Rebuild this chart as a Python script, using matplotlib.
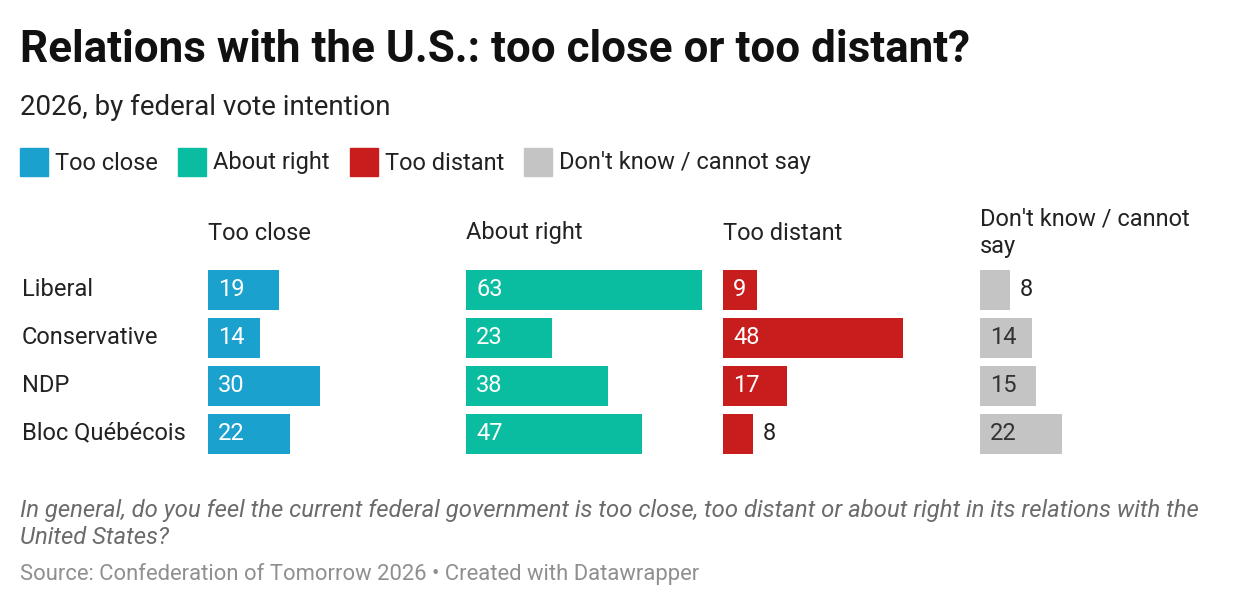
import matplotlib.pyplot as plt
from matplotlib.patches import Rectangle

plt.rcParams['font.family'] = ['Roboto', 'DejaVu Sans']

# ------------------------ #
# DATA
# ------------------------ #

parties = ["Liberal", "Conservative", "NDP", "Bloc Québécois"]
categories = ["Too close", "About right", "Too distant", "Don't know / cannot say"]
headers = ["Too close", "About right", "Too distant", "Don't know / cannot\nsay"]

too_close = [19, 14, 30, 22]
about_right = [63, 23, 38, 47]
too_distant = [9, 48, 17, 8]
dont_know = [8, 14, 15, 22]

series = [too_close, about_right, too_distant, dont_know]
colors = ["#1ba1cd", "#0abda0", "#c71e1d", "#c4c4c4"]
inside_text = ["white", "white", "white", "#333333"]

title = "Relations with the U.S.: too close or too distant?"
subtitle = "2026, by federal vote intention"
note = ("In general, do you feel the current federal government is too close, too distant or about right in its relations with the\n"
        "United States?")
source = "Source: Confederation of Tomorrow 2026 \u2022 Created with Datawrapper"

# ------------------------ #
# LAYOUT (pixels)
# ------------------------ #

W, H = 1240, 606
fig = plt.figure(figsize=(W / 100, H / 100), dpi=100)


def fx(x):
    return x / W


def fy(y):
    return 1 - y / H


fig.text(fx(20), fy(62), title, fontsize=31.7, fontweight="bold", color="#111111", va="baseline")
fig.text(fx(20), fy(115.5), subtitle, fontsize=20, color="#222222", va="baseline")

# legend
leg_x = [20, 178, 350, 524]
for lx, lab, col in zip(leg_x, categories, colors):
    fig.patches.append(Rectangle((fx(lx), fy(175.5)), fx(28), 28 / H, color=col,
                                 transform=fig.transFigure))
    fig.text(fx(lx + 35), fy(169.5), lab, fontsize=17, color="#222222", va="baseline")

# panels
col_x = [208, 466, 723, 980]
xmax = max(max(s) for s in series)
px_per_unit = 236 / xmax
bar_h = 40 / 48

for i, (cx, vals) in enumerate(zip(col_x, series)):
    ax = fig.add_axes([fx(cx), fy(454), 236 / W, 184 / H])
    ypos = range(len(parties))
    ax.barh(ypos, vals, height=bar_h, color=colors[i])
    ax.set_xlim(0, xmax)
    ax.set_ylim(len(parties) - 1 + bar_h / 2, -bar_h / 2)
    ax.axis("off")
    for y, v in zip(ypos, vals):
        if v * px_per_unit >= 32:
            ax.annotate(str(v), (0, y), xytext=(10, 0), textcoords="offset pixels",
                        va="center", ha="left", fontsize=17, color=inside_text[i])
        else:
            ax.annotate(str(v), (v, y), xytext=(10, 0), textcoords="offset pixels",
                        va="center", ha="left", fontsize=17, color="#222222")
    fig.text(fx(cx), fy(233), headers[i], fontsize=17, color="#222222",
             va="center", linespacing=1.25)

# row labels
for k, p in enumerate(parties):
    fig.text(fx(22), fy(289 + 48 * k), p, fontsize=17, color="#222222", va="center")

fig.text(fx(20), fy(544), note, fontsize=17.2, style="italic", color="#6b6b6b",
         va="baseline", linespacing=1.2)
fig.text(fx(20), fy(580), source, fontsize=15.8, color="#8f8f8f", va="baseline")

plt.savefig("out.png", dpi=100, facecolor="white")
